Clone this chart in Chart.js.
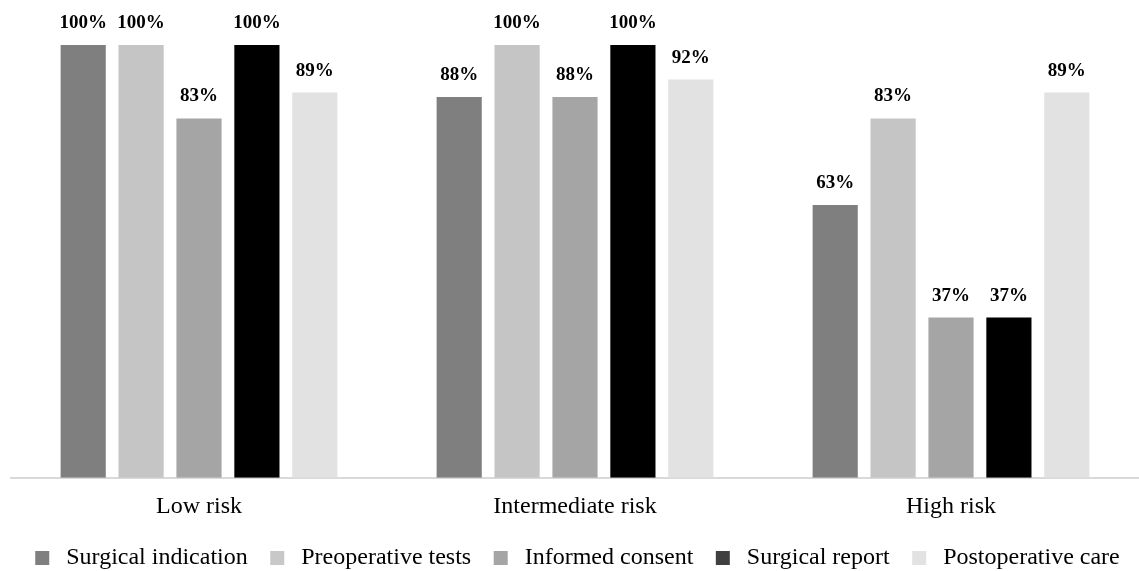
<!DOCTYPE html>
<html>
<head>
<meta charset="utf-8">
<script src="https://cdn.jsdelivr.net/npm/chart.js@4"></script>
<style>
  html, body { margin: 0; padding: 0; background: #fff; overflow: hidden; }
  #wrap { width: 1139px; height: 571px; }
</style>
</head>
<body>
<div id="wrap"><canvas id="chart"></canvas></div>
<script>
// ========= DATA ========= //
const categories = ["Low risk", "Intermediate risk", "High risk"];
const seriesNames = ["Surgical indication", "Preoperative tests", "Informed consent", "Surgical report", "Postoperative care"];
const surgicalIndication = [100, 88, 63];
const preoperativeTests = [100, 100, 83];
const informedConsent = [83, 88, 37];
const surgicalReport = [100, 100, 37];
const postoperativeCare = [89, 92, 89];

const colors = ["#7f7f7f", "#c5c5c5", "#a5a5a5", "#000000", "#e2e2e2"];
const legendColors = ["#7f7f7f", "#c8c8c8", "#a5a5a5", "#404040", "#e2e2e2"];
const values = [surgicalIndication, preoperativeTests, informedConsent, surgicalReport, postoperativeCare];

const serif = "'Liberation Serif', 'Times New Roman', serif";

// ========= LABELS ON BARS ========= //
const barLabels = {
    id: "barLabels",
    afterDatasetsDraw(chart) {
        const ctx = chart.ctx;
        ctx.save();
        ctx.font = "bold 19px " + serif;
        ctx.fillStyle = "#000";
        ctx.textAlign = "center";
        ctx.textBaseline = "middle";
        chart.data.datasets.forEach((ds, i) => {
            chart.getDatasetMeta(i).data.forEach((bar, j) => {
                ctx.fillText(ds.data[j] + "%", bar.x, bar.y - 22);
            });
        });
        ctx.restore();
    }
};

// ========= CHART ========= //
new Chart(document.getElementById("chart"), {
    type: "bar",
    data: {
        labels: categories,
        datasets: seriesNames.map((name, i) => ({
            label: name,
            data: values[i],
            backgroundColor: colors[i],
            barPercentage: 0.78,
            categoryPercentage: 0.77
        }))
    },
    options: {
        responsive: true,
        maintainAspectRatio: false,
        animation: false,
        // legend sits flush with the bottom edge, so let its padding spill over
        layout: { padding: { top: 45, left: 11, right: 0, bottom: -9 } },
        scales: {
            x: {
                grid: { display: false },
                border: { color: "#d9d9d9", width: 2 },
                ticks: { color: "#000", font: { family: serif, size: 24 }, padding: 7 }
            },
            y: { display: false, min: 0, max: 100 }
        },
        plugins: {
            tooltip: { enabled: false },
            legend: {
                position: "bottom",
                labels: {
                    color: "#000",
                    font: { family: serif, size: 24 },
                    usePointStyle: true,
                    pointStyle: "rect",
                    boxWidth: 24,
                    boxHeight: 14,
                    padding: 17.5,
                    generateLabels(chart) {
                        return chart.data.datasets.map((ds, i) => ({
                            text: ds.label,
                            fillStyle: legendColors[i],
                            strokeStyle: legendColors[i],
                            lineWidth: 0,
                            pointStyle: "rect",
                            fontColor: "#000",
                            datasetIndex: i
                        }));
                    }
                }
            }
        }
    },
    plugins: [barLabels]
});
</script>
</body>
</html>
